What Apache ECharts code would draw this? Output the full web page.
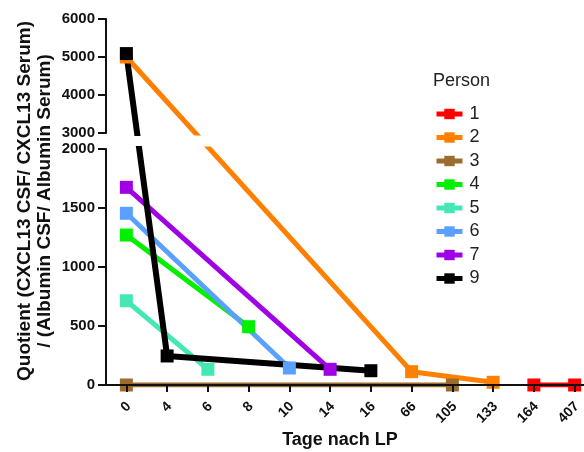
<!DOCTYPE html>
<html>
<head>
<meta charset="utf-8">
<script src="https://cdn.jsdelivr.net/npm/echarts@6/dist/echarts.min.js"></script>
<style>
  html, body { margin: 0; padding: 0; background: #fff; }
  #chart { width: 584px; height: 452px; }
</style>
</head>
<body>
<div id="chart"></div>
<script>
const days = ['0', '4', '6', '8', '10', '14', '16', '66', '105', '133', '164', '407']
const persons = ['1', '2', '3', '4', '5', '6', '7', '9']
const colors = ['#ff0000', '#ff8000', '#9c6b30', '#00f000', '#44e8b4', '#5aa0ff', '#a000e6', '#000000']

// [day, quotient]
const p1 = [['164', 0], ['407', 0]]
const p2 = [['0', 5000], ['66', 113], ['133', 23]]
const p3 = [['0', 0], ['105', 0]]
const p4 = [['0', 1271], ['8', 494]]
const p5 = [['0', 714], ['6', 133]]
const p6 = [['0', 1455], ['10', 144]]
const p7 = [['0', 1675], ['14', 133]]
const p9 = [['0', 5090], ['4', 246], ['16', 121]]
const values = [p1, p2, p3, p4, p5, p6, p7, p9]

const topTicks = [3000, 6000, 1000]
const bottomTicks = [0, 2000, 500]

// broken y axis: 0-2000 below, 3000-6000 above, different scales
const TOP_H = 114, BOT_H = 236, GAP = 16
const sTop = TOP_H / (topTicks[1] - topTicks[0])
const sBot = BOT_H / (bottomTicks[1] - bottomTicks[0])
function height(v) {
  return v <= bottomTicks[1] ? v * sBot : BOT_H + GAP + (v - topTicks[0]) * sTop
}
const toTop = v => topTicks[0] + (height(v) - BOT_H - GAP) / sTop
const toBot = v => height(v) / sBot

const labelFont = { fontFamily: 'Liberation Sans', fontWeight: 'bold', fontSize: 15, color: '#111' }
const axisLine = { show: true, onZero: false, lineStyle: { color: '#111', width: 2 } }
const yTick = { show: true, length: 8, lineStyle: { color: '#111', width: 2 } }

const series = []
values.forEach((d, i) => {
  const base = {
    name: persons[i],
    type: 'line',
    symbol: 'rect',
    symbolSize: 13,
    clip: true,
    itemStyle: { color: colors[i] },
    lineStyle: { color: colors[i], width: i === 7 ? 6 : 5 }
  }
  series.push({ ...base, xAxisIndex: 1, yAxisIndex: 1, data: d.map(p => [p[0], toBot(p[1])]) })
  if (d.some(p => p[1] >= topTicks[0])) {
    series.push({ ...base, xAxisIndex: 0, yAxisIndex: 0, data: d.map(p => [p[0], toTop(p[1])]) })
  }
})

const chart = echarts.init(document.getElementById('chart'))
chart.setOption({
  animation: false,
  title: {
    text: 'Person',
    left: 428,
    top: 67,
    textStyle: { fontFamily: 'Liberation Sans', fontWeight: 'normal', fontSize: 18, color: '#222' }
  },
  legend: {
    data: persons,
    orient: 'vertical',
    left: 429,
    top: 100,
    itemWidth: 26,
    itemHeight: 13,
    itemGap: 5.5,
    lineStyle: { width: 5 },
    textStyle: { fontFamily: 'Liberation Sans', fontSize: 18, color: '#222', lineHeight: 18, padding: [0, 0, 0, 2] }
  },
  grid: [
    { left: 106, width: 489, top: 19, height: TOP_H, outerBoundsMode: 'none' },
    { left: 106, width: 489, top: 19 + TOP_H + GAP, height: BOT_H, outerBoundsMode: 'none' }
  ],
  xAxis: [
    { gridIndex: 0, type: 'category', data: days, show: false },
    {
      gridIndex: 1,
      type: 'category',
      data: days,
      z: 10,
      axisLine,
      axisTick: { show: true, alignWithLabel: true, length: 7, lineStyle: { color: '#111', width: 2 } },
      axisLabel: { ...labelFont, fontSize: 14, rotate: 45, margin: 17, interval: 0, verticalAlign: 'top', lineHeight: 6.5 }
    }
  ],
  yAxis: [
    {
      gridIndex: 0,
      type: 'value',
      min: topTicks[0],
      max: topTicks[1],
      interval: topTicks[2],
      z: 10,
      axisLine,
      axisTick: yTick,
      axisLabel: { ...labelFont, margin: 11, formatter: v => String(v) },
      splitLine: { show: false }
    },
    {
      gridIndex: 1,
      type: 'value',
      min: bottomTicks[0],
      max: bottomTicks[1],
      interval: bottomTicks[2],
      z: 10,
      axisLine,
      axisTick: yTick,
      axisLabel: { ...labelFont, margin: 11, formatter: v => String(v) },
      splitLine: { show: false }
    }
  ],
  graphic: [
    {
      type: 'text',
      x: 35,
      y: 201,
      rotation: Math.PI / 2,
      style: {
        text: 'Quotient (CXCL13 CSF/ CXCL13 Serum)\n/ (Albumin CSF/ Albumin Serum)',
        fontFamily: 'Liberation Sans',
        fontWeight: 'bold',
        fontSize: 19,
        lineHeight: 20,
        fill: '#111',
        textAlign: 'center',
        textVerticalAlign: 'middle'
      }
    },
    {
      type: 'text',
      x: 340,
      y: 440,
      style: {
        text: 'Tage nach LP',
        fontFamily: 'Liberation Sans',
        fontWeight: 'bold',
        fontSize: 18,
        fill: '#111',
        textAlign: 'center',
        textVerticalAlign: 'middle'
      }
    }
  ],
  series
})
</script>
</body>
</html>
